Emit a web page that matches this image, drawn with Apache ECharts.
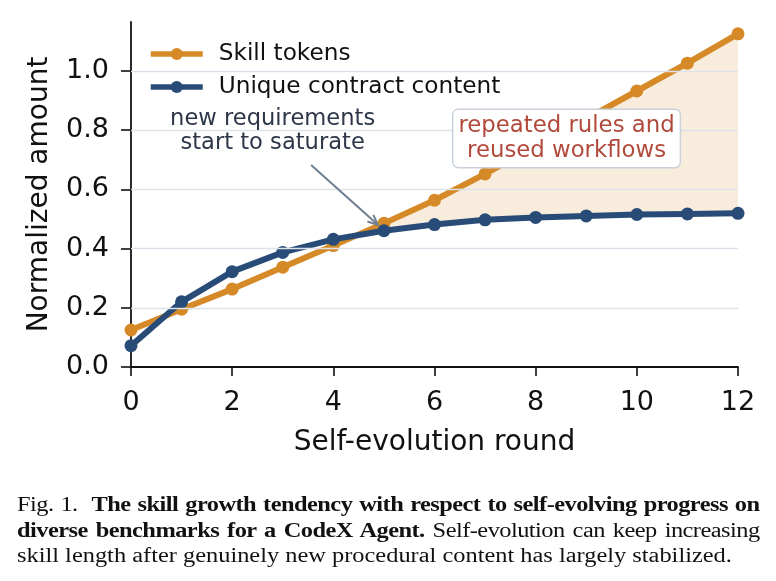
<!DOCTYPE html>
<html>
<head>
<meta charset="utf-8">
<script src="https://cdn.jsdelivr.net/npm/echarts@6/dist/echarts.min.js"></script>
<style>
  body { margin: 0; background: #ffffff; }
  #wrap { position: relative; width: 776px; height: 581px; overflow: hidden; }
  #chart { position: absolute; left: 0; top: 0; width: 776px; height: 581px; }
  #caption { position: absolute; left: 17px; top: 492px; width: 624px;
             transform: scaleX(1.19); transform-origin: 0 0;
             font-family: 'Liberation Serif', 'Times New Roman', serif; font-size: 20.5px;
             line-height: 25.5px; color: #111111; }
  #caption div { white-space: nowrap; text-align: justify; text-align-last: justify; letter-spacing: -0.45px; }
  #caption div.last { text-align: left; text-align-last: left; letter-spacing: 0; }
</style>
</head>
<body>
<div id="wrap">
  <div id="chart"></div>
  <div id="caption">
    <div>Fig. 1.&nbsp; <b>The skill growth tendency with respect to self-evolving progress on</b></div>
    <div><b>diverse benchmarks for a CodeX Agent.</b> Self-evolution can keep increasing</div>
    <div class="last">skill length after genuinely new procedural content has largely stabilized.</div>
  </div>
</div>
<script>
// rounds 0..12
var rounds = [0, 1, 2, 3, 4, 5, 6, 7, 8, 9, 10, 11, 12];
var skillTokens = [0.125, 0.195, 0.263, 0.337, 0.41, 0.485, 0.563, 0.652, 0.745, 0.838, 0.932, 1.026, 1.125];
var uniqueContent = [0.072, 0.22, 0.322, 0.387, 0.431, 0.46, 0.481, 0.497, 0.505, 0.51, 0.515, 0.517, 0.519];
var yTicks = [0, 0.2, 0.4, 0.6, 0.8, 1.0];
var gridTicks = [0.2, 0.4, 0.6, 0.8, 1.0];
var fillFrom = 5; // shaded gap starts at this round

var ORANGE = '#d68a27';
var BLUE = '#284c77';
var FONT = 'DejaVu Sans';

function pairs(ys) {
  return rounds.map(function (r, i) { return [r, ys[i]]; });
}

var myChart = echarts.init(document.getElementById('chart'));

myChart.setOption({
  animation: false,
  backgroundColor: '#ffffff',
  grid: { left: 131, right: 38, top: 22, bottom: 214, containLabel: false },
  legend: {
    orient: 'vertical',
    left: 148,
    top: 42,
    padding: 0,
    itemWidth: 52,
    itemHeight: 15,
    itemGap: 9,
    lineStyle: { width: 5.5 },
    data: ['Skill tokens', 'Unique contract content'],
    textStyle: { fontFamily: FONT, fontSize: 23.2, color: '#111111', lineHeight: 24, padding: [0, 0, 0, 11] }
  },
  xAxis: {
    type: 'value',
    min: 0,
    max: 12,
    interval: 2,
    name: 'Self-evolution round',
    nameLocation: 'middle',
    nameGap: 62,
    nameTextStyle: { fontFamily: FONT, fontSize: 28, color: '#111111' },
    axisLine: { lineStyle: { color: '#111111', width: 1.8 } },
    axisTick: { show: true, inside: false, length: 9, lineStyle: { color: '#111111', width: 1.6 } },
    axisLabel: { margin: 22, fontFamily: FONT, fontSize: 27, color: '#111111' },
    splitLine: { show: false }
  },
  yAxis: {
    type: 'value',
    min: 0,
    max: 1.165,
    name: 'Normalized amount',
    nameLocation: 'middle',
    nameGap: 77,
    nameTextStyle: { fontFamily: FONT, fontSize: 28, color: '#111111' },
    axisLine: { show: true, lineStyle: { color: '#111111', width: 1.8 } },
    axisTick: { show: true, inside: false, length: 10, customValues: yTicks, lineStyle: { color: '#111111', width: 1.6 } },
    axisLabel: {
      margin: 22, fontFamily: FONT, fontSize: 27, color: '#111111', customValues: yTicks,
      formatter: function (v) { return v.toFixed(1); }
    },
    splitLine: { show: false }
  },
  series: [
    {
      // horizontal grid lines
      name: 'grid',
      type: 'line',
      data: [],
      silent: true,
      z: 1,
      markLine: {
        silent: true,
        symbol: ['none', 'none'],
        label: { show: false },
        lineStyle: { color: '#dce2e9', width: 1.3, type: 'solid' },
        data: gridTicks.map(function (t) { return { yAxis: t }; })
      }
    },
    {
      // shaded gap between the two curves
      name: 'gap',
      type: 'custom',
      silent: true,
      z: 2,
      clip: true,
      data: [[fillFrom, 0]],
      renderItem: function (params, api) {
        var pts = [];
        var i;
        for (i = 0; i < rounds.length; i++) {
          if (rounds[i] >= fillFrom) pts.push(api.coord([rounds[i], skillTokens[i]]));
        }
        for (i = rounds.length - 1; i >= 0; i--) {
          if (rounds[i] >= fillFrom) pts.push(api.coord([rounds[i], uniqueContent[i]]));
        }
        return { type: 'polygon', shape: { points: pts }, style: { fill: 'rgba(214,138,39,0.16)' } };
      }
    },
    {
      name: 'Skill tokens',
      type: 'line',
      data: pairs(skillTokens),
      z: 3,
      clip: true,
      symbol: 'circle',
      symbolSize: 13,
      itemStyle: { color: ORANGE },
      lineStyle: { color: ORANGE, width: 6 }
    },
    {
      name: 'Unique contract content',
      type: 'line',
      data: pairs(uniqueContent),
      z: 4,
      clip: true,
      symbol: 'circle',
      symbolSize: 13,
      itemStyle: { color: BLUE },
      lineStyle: { color: BLUE, width: 6 }
    },
    {
      // annotations: arrow, note, and boxed label
      name: 'notes',
      type: 'custom',
      silent: true,
      z: 10,
      clip: false,
      data: [[0, 0]],
      renderItem: function (params, api) {
        var a = api.coord([3.56, 0.682]);
        var b = api.coord([4.88, 0.48]);
        var ang = Math.atan2(b[1] - a[1], b[0] - a[0]);
        var hl = 11, spread = 0.42;
        var h1 = [b[0] - hl * Math.cos(ang - spread), b[1] - hl * Math.sin(ang - spread)];
        var h2 = [b[0] - hl * Math.cos(ang + spread), b[1] - hl * Math.sin(ang + spread)];
        var note = api.coord([2.80, 0.797]);
        var box = api.coord([8.61, 0.772]);
        return {
          type: 'group',
          children: [
            { type: 'polyline', shape: { points: [a, b] }, style: { stroke: '#6f7f91', lineWidth: 2, fill: null } },
            { type: 'polyline', shape: { points: [h1, b, h2] }, style: { stroke: '#6f7f91', lineWidth: 2, fill: null } },
            {
              type: 'text', x: note[0], y: note[1],
              style: {
                text: 'new requirements\nstart to saturate',
                fill: '#2d3748', font: '22.6px "DejaVu Sans"', lineHeight: 24,
                align: 'center', verticalAlign: 'middle'
              }
            },
            {
              type: 'text', x: box[0], y: box[1],
              style: {
                text: 'repeated rules and\nreused workflows',
                fill: '#b24a3c', font: '22.8px "DejaVu Sans"', lineHeight: 25,
                align: 'center', verticalAlign: 'middle',
                backgroundColor: '#ffffff', borderColor: '#c9d1da', borderWidth: 1.5,
                borderRadius: 5, padding: [4, 5, 3, 5]
              }
            }
          ]
        };
      }
    }
  ]
});
</script>
</body>
</html>
